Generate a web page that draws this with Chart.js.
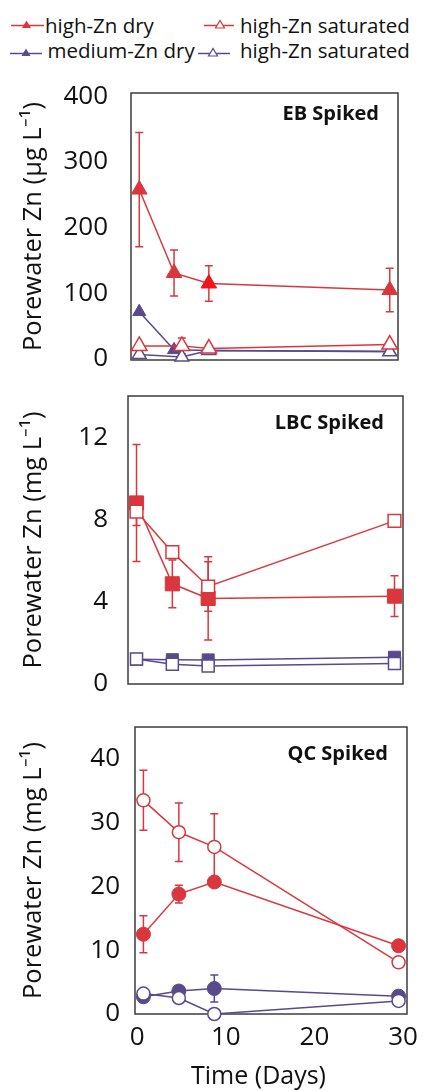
<!DOCTYPE html>
<html>
<head>
<meta charset="utf-8">
<script src="https://cdn.jsdelivr.net/npm/chart.js@4.4.1/dist/chart.umd.min.js"></script>
<style>
body{margin:0;background:#fff;font-family:'Open Sans',sans-serif;color:#111}
#page{position:relative;width:425px;height:1091px;overflow:hidden}
.panel{position:absolute;left:0;width:425px}
.lg{position:absolute;font-size:20.5px;line-height:24px;white-space:nowrap}
.sw{position:absolute}
</style>
</head>
<body>
<div id="page">
  <svg class="sw" style="left:11px;top:15px" width="34" height="20"><line x1="0" y1="10.5" x2="33" y2="10.5" stroke="#d9373d" stroke-width="1.5"/><polygon points="11,13 20,13 15.5,5.5" fill="#d9373d"/></svg>
  <div class="lg" style="left:45px;top:13px">high-Zn dry</div>
  <svg class="sw" style="left:204px;top:15px" width="32" height="20"><line x1="0" y1="10.5" x2="30" y2="10.5" stroke="#d9373d" stroke-width="1.5"/><polygon points="11.5,13 20.5,13 16,5.5" fill="#fff" stroke="#d9373d" stroke-width="1.2"/></svg>
  <div class="lg" style="left:240px;top:13px">high-Zn saturated</div>
  <svg class="sw" style="left:10px;top:43px" width="34" height="20"><line x1="0" y1="10.5" x2="32" y2="10.5" stroke="#594a8c" stroke-width="1.5"/><polygon points="11.5,13 20.5,13 16,5.5" fill="#594a8c"/></svg>
  <div class="lg" style="left:47.5px;top:38px">medium-Zn dry</div>
  <svg class="sw" style="left:198px;top:43px" width="34" height="20"><line x1="0" y1="10.5" x2="32" y2="10.5" stroke="#594a8c" stroke-width="1.5"/><polygon points="10.5,13 19.5,13 15,5.5" fill="#fff" stroke="#594a8c" stroke-width="1.2"/></svg>
  <div class="lg" style="left:240px;top:38px">high-Zn saturated</div>

  <div class="panel" style="top:60px;height:320px"><canvas id="ebChart"></canvas></div>
  <div class="panel" style="top:380px;height:320px"><canvas id="lbcChart"></canvas></div>
  <div class="panel" style="top:700px;height:391px"><canvas id="qcChart"></canvas></div>
</div>
<script>
// sampling days (EB saturated second sample was taken a bit later)
const days = [0.7, 4.7, 8.7, 29.5];
const daysEBSat = [0.7, 5.6, 8.7, 29.5];
const xTicks = [0, 10, 20, 30];

// EB spiked, ug/L
const ebTicks = [0, 100, 200, 300, 400];
const ebHighDry = [258, 131, 115, 105];
const ebHighDryErr = [87, 35, 27, 33];
const ebHighSat = [20, 20, 16, 22];
const ebHighSatErr = [0, 12, 0, 0];
const ebMedDry = [72, 14, 13, 12];
const ebMedSat = [7, 3, 13, 11];

// LBC spiked, mg/L
const lbcTicks = [0, 4, 8, 12];
const lbcHighDry = [8.8, 4.87, 4.16, 4.27];
const lbcHighDryErr = [2.84, 1.16, 2.02, 0.99];
const lbcHighSat = [8.38, 6.41, 4.74, 7.93];
const lbcHighSatErr = [0.68, 0, 1.2, 0];
const lbcMedDry = [1.2, 1.18, 1.17, 1.3];
const lbcMedSat = [1.22, 0.96, 0.88, 1.0];

// QC spiked, mg/L
const qcTicks = [0, 10, 20, 30, 40];
const qcHighDry = [12.5, 18.8, 20.7, 10.7];
const qcHighDryErr = [2.9, 1.4, 0, 0];
const qcHighSat = [33.5, 28.5, 26.2, 8.1];
const qcHighSatErr = [4.7, 4.6, 5.2, 0];
const qcMedDry = [2.7, 3.6, 4.0, 2.8];
const qcMedDryErr = [0, 0, 2.1, 0];
const qcMedSat = [3.2, 2.5, 0, 2.05];

const RED = '#d9373d';
const PURPLE = '#594a8c';
const INK = '#111';

Chart.defaults.font.family = "'Open Sans', sans-serif";
Chart.defaults.color = INK;

const framePlugin = {
  id: 'frame',
  beforeDatasetsDraw(chart) {
    const {ctx, chartArea: a} = chart;
    ctx.save();
    ctx.strokeStyle = '#3c3c3c';
    ctx.lineWidth = 1.5;
    ctx.strokeRect(a.left, a.top, a.right - a.left, a.bottom - a.top);
    ctx.restore();
  }
};

const errPlugin = {
  id: 'errBars',
  beforeDatasetsDraw(chart) {
    const {ctx, scales: {x, y}} = chart;
    chart.data.datasets.forEach(ds => {
      if (!ds.errors) return;
      ctx.save();
      ctx.strokeStyle = ds.borderColor;
      ctx.lineWidth = 1.5;
      ds.data.forEach((p, i) => {
        const e = ds.errors[i];
        if (!e) return;
        const px = x.getPixelForValue(p.x);
        const t = y.getPixelForValue(p.y + e);
        const b = y.getPixelForValue(p.y - e);
        ctx.beginPath();
        ctx.moveTo(px, t); ctx.lineTo(px, b);
        ctx.moveTo(px - 4, t); ctx.lineTo(px + 4, t);
        ctx.moveTo(px - 4, b); ctx.lineTo(px + 4, b);
        ctx.stroke();
      });
      ctx.restore();
    });
  }
};

const labelPlugin = {
  id: 'panelLabel',
  afterDraw(chart, args, opts) {
    const {ctx, chartArea: a} = chart;
    ctx.save();
    ctx.font = "bold 20px 'Open Sans'";
    ctx.fillStyle = '#111';
    ctx.textAlign = 'right';
    ctx.textBaseline = 'alphabetic';
    ctx.fillText(opts.text, a.right - 19, a.top + opts.dy);
    ctx.restore();
  }
};

const series = (xs, ys, errs, color, style, radius, hollow) => ({
  data: xs.map((d, i) => ({x: d, y: ys[i]})),
  errors: errs,
  borderColor: color,
  borderWidth: 1.5,
  pointStyle: style,
  pointRadius: radius,
  pointHoverRadius: radius,
  pointBackgroundColor: hollow ? '#fff' : color,
  pointBorderColor: color,
  pointBorderWidth: hollow ? 1.5 : 1,
  showLine: true,
  tension: 0,
  fill: false,
  clip: false
});

const panel = (id, p) => new Chart(document.getElementById(id), {
  type: 'line',
  data: {datasets: p.sets},
  plugins: [framePlugin, errPlugin, labelPlugin],
  options: {
    responsive: true,
    maintainAspectRatio: false,
    animation: false,
    events: [],
    layout: {padding: {left: 0, top: p.top, right: p.right, bottom: p.bottom}},
    plugins: {
      legend: {display: false},
      tooltip: {enabled: false},
      panelLabel: {text: p.label, dy: p.dy}
    },
    scales: {
      x: {
        type: 'linear', min: -0.25, max: 30.45, display: p.showX,
        grid: {display: false, drawTicks: false},
        border: {display: false},
        ticks: {padding: 8, font: {size: 26}, color: INK},
        afterBuildTicks: s => { s.ticks = xTicks.map(v => ({value: v})); },
        title: {display: true, text: 'Time (Days)\u2002\u2002', font: {size: 25, lineHeight: 1}, padding: {top: 0, bottom: 1.5}, color: INK},
        afterFit: s => { s.height = p.xHeight; s.paddingLeft = 0; s.paddingRight = 0; }
      },
      y: {
        type: 'linear', min: p.yMin, max: p.yMax,
        grid: {display: false, drawTicks: false},
        border: {display: false},
        ticks: {padding: p.tickPad, font: {size: 26}, color: INK},
        afterBuildTicks: s => { s.ticks = p.yTicks.map(v => ({value: v})); },
        title: {display: true, text: p.yTitle, font: {size: 25.5, lineHeight: 1}, padding: {top: 21, bottom: 0}, color: INK},
        afterFit: s => { s.width = p.left; s.paddingTop = 0; s.paddingBottom = 0; }
      }
    }
  }
});

const ebRedDry = series(days, ebHighDry, ebHighDryErr, RED, 'triangle', 9, false);
ebRedDry.pointBackgroundColor = [RED, RED, '#f0141c', RED];
ebRedDry.pointBorderColor = [RED, RED, '#f0141c', RED];

panel('ebChart', {
  sets: [
    series(daysEBSat, ebHighSat, ebHighSatErr, RED, 'triangle', 9, true),
    series(daysEBSat, ebMedSat, null, PURPLE, 'triangle', 8, true),
    ebRedDry,
    series(days, ebMedDry, null, PURPLE, 'triangle', 7.5, false)
  ],
  yMin: -1.5, yMax: 405, yTicks: ebTicks,
  yTitle: 'Porewater Zn (µg L⁻¹)',
  top: 33, right: 27, bottom: 20, left: 131, tickPad: 23,
  label: 'EB Spiked', dy: 27, showX: false, xHeight: 0
});

panel('lbcChart', {
  sets: [
    series(days, lbcHighSat, lbcHighSatErr, RED, 'rect', 9, true),
    series(days, lbcMedSat, null, PURPLE, 'rect', 8.5, true),
    series(days, lbcHighDry, lbcHighDryErr, RED, 'rect', 10, false),
    series(days, lbcMedDry, null, PURPLE, 'rect', 8.5, false)
  ],
  yMin: 0, yMax: 14, yTicks: lbcTicks,
  yTitle: 'Porewater Zn (mg L⁻¹)',
  top: 16, right: 22, bottom: 16, left: 128, tickPad: 20,
  label: 'LBC Spiked', dy: 33, showX: false, xHeight: 0
});

panel('qcChart', {
  sets: [
    series(days, qcHighSat, qcHighSatErr, RED, 'circle', 6.5, true),
    series(days, qcMedSat, null, PURPLE, 'circle', 6.5, true),
    series(days, qcHighDry, qcHighDryErr, RED, 'circle', 7, false),
    series(days, qcMedDry, qcMedDryErr, PURPLE, 'circle', 7, false)
  ],
  yMin: 0, yMax: 45, yTicks: qcTicks,
  yTitle: 'Porewater Zn (mg L⁻¹)',
  top: 27, right: 18, bottom: 0, left: 135, tickPad: 15,
  label: 'QC Spiked', dy: 33, showX: true, xHeight: 77
});
</script>
</body>
</html>
